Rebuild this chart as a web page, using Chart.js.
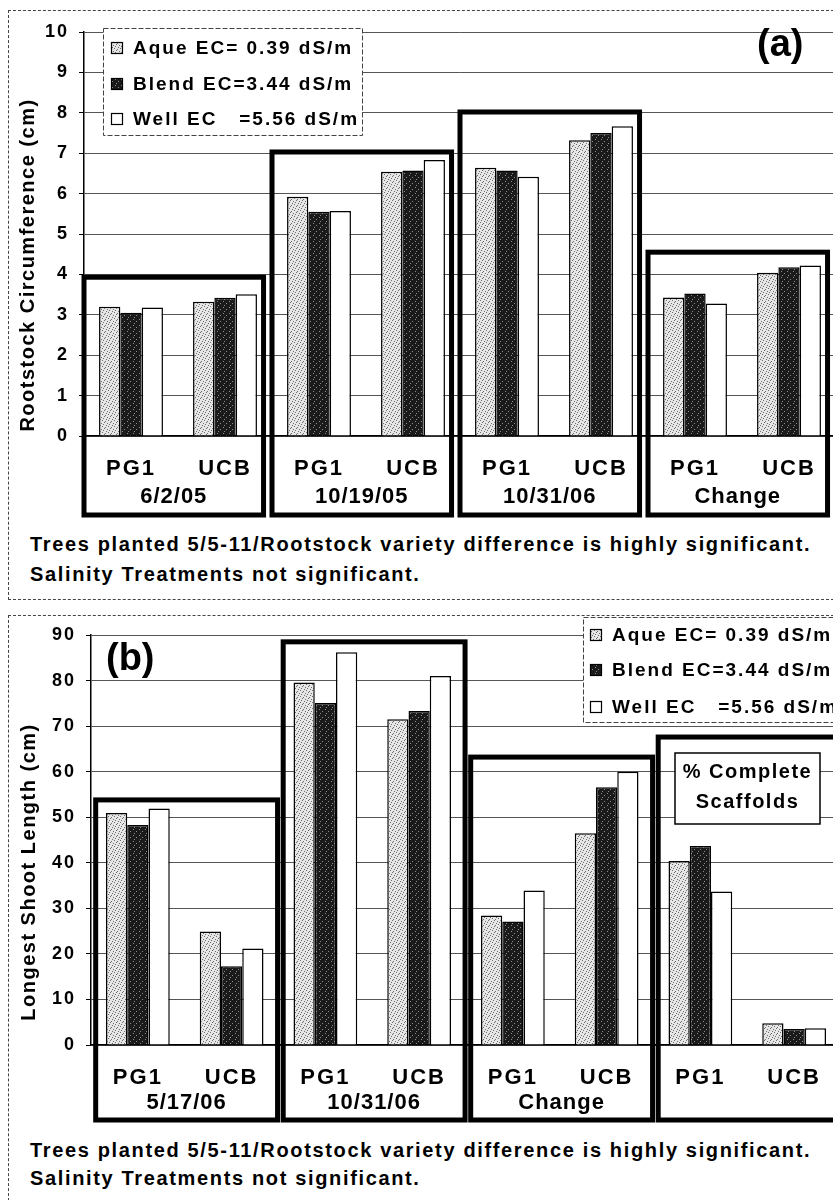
<!DOCTYPE html>
<html>
<head>
<meta charset="utf-8">
<title>Rootstock circumference and shoot length</title>
<script src="https://cdn.jsdelivr.net/npm/chart.js@4.4.1/dist/chart.umd.min.js"></script>
<style>
  html, body { margin: 0; padding: 0; overflow: hidden; background: #fff; }
  body { width: 833px; height: 1200px; position: relative; font-family: 'Liberation Sans', Arial, sans-serif; color: #000; }
  canvas { position: absolute; left: 0; }
  #chartA { top: 0; }
  #chartB { top: 600px; }
  .frame { position: absolute; border: 1px dashed #444; border-right: none; }
  .note { position: absolute; left: 30px; font-size: 20px; font-weight: bold; letter-spacing: 1.65px; white-space: nowrap; }
</style>
</head>
<body>
<div class="frame" style="left:8px; top:10px; width:840px; height:588px;"></div>
<div class="frame" style="left:8px; top:615px; width:840px; height:600px; border-bottom:none;"></div>
<canvas id="chartA" width="850" height="520"></canvas>
<canvas id="chartB" width="850" height="530"></canvas>
<div class="note" style="top:529px; line-height:30px;">Trees planted 5/5-11/Rootstock variety difference is highly significant.<br>Salinity Treatments not significant.</div>
<div class="note" style="top:1136px; line-height:28px;">Trees planted 5/5-11/Rootstock variety difference is highly significant.<br>Salinity Treatments not significant.</div>

<script>
// Legend names and x categories (shared by both panels)
const seriesNames = ['Aque EC= 0.39 dS/m', 'Blend EC=3.44 dS/m', 'Well EC   =5.56 dS/m'];
const categories = ['PG1', 'UCB', 'PG1', 'UCB', 'PG1', 'UCB', 'PG1', 'UCB'];

// (a) Rootstock circumference (cm)
const groupsA = ['6/2/05', '10/19/05', '10/31/06', 'Change'];
const aqueA  = [3.20, 3.32, 5.92, 6.54, 6.64, 7.32, 3.43, 4.04];
const blendA = [3.05, 3.42, 5.55, 6.57, 6.57, 7.50, 3.53, 4.18];
const wellA  = [3.18, 3.51, 5.57, 6.83, 6.42, 7.67, 3.28, 4.22];
const boxTopsA = [3.93, 7.03, 8.02, 4.55];

// (b) Longest shoot length (cm)
const groupsB = ['5/17/06', '10/31/06', 'Change', ''];
const aqueB  = [50.9, 24.9, 79.6, 71.5, 28.4, 46.5, 40.4, 4.8];
const blendB = [48.3, 17.3, 75.1, 73.3, 27.1, 56.6, 43.7, 3.5];
const wellB  = [51.9, 21.2, 86.2, 81.0, 33.9, 60.0, 33.7, 3.7];
const boxTopsB = [53.8, 88.5, 63.2, 67.6];

const FONT = '"Liberation Sans", Arial, sans-serif';

// speckled fills like the scanned print
function stipple(base, dot, pts) {
    const c = document.createElement('canvas');
    c.width = c.height = 6;
    const g = c.getContext('2d');
    g.fillStyle = base;
    g.fillRect(0, 0, 6, 6);
    g.fillStyle = dot;
    pts.forEach(p => g.fillRect(p[0], p[1], 1, 1));
    return g.createPattern(c, 'repeat');
}
const fills = [
    stipple('#e6e6e6', '#6e6e6e', [[0, 0], [3, 1], [5, 3], [1, 4], [4, 5], [2, 2]]),
    stipple('#1a1a1a', '#8c8c8c', [[1, 1], [4, 3], [2, 5]]),
    '#ffffff'
];

// Boxes, group labels, legend, axis title etc.
const panelDecor = {
    id: 'panelDecor',
    beforeDraw(chart, args, o) {
        chart.ctx.letterSpacing = '2px';
    },
    afterDraw(chart, args, o) {
        const ctx = chart.ctx;
        const x = chart.scales.x, y = chart.scales.y;
        const half = (x.getPixelForValue(1) - x.getPixelForValue(0)) / 2;
        ctx.save();
        ctx.fillStyle = '#000';
        ctx.strokeStyle = '#000';

        o.boxTops.forEach((top, g) => {
            const left = x.getPixelForValue(2 * g) - half * o.boxLeft;
            const right = x.getPixelForValue(2 * g + 1) + half * o.boxRight;
            const t = y.getPixelForValue(top);
            ctx.lineWidth = 5;
            ctx.strokeRect(left, t, right - left, o.boxBottom - t);
            if (o.groups[g]) {
                ctx.font = 'bold 22px ' + FONT;
                ctx.letterSpacing = '1px';
                ctx.textAlign = 'center';
                ctx.textBaseline = 'middle';
                ctx.fillText(o.groups[g], (left + right) / 2, o.groupY);
            }
        });

        // y axis title
        ctx.save();
        ctx.translate(o.titleX, o.titleY);
        ctx.rotate(-Math.PI / 2);
        ctx.font = 'bold 20px ' + FONT;
        ctx.letterSpacing = '1.5px';
        ctx.textAlign = 'center';
        ctx.textBaseline = 'middle';
        ctx.fillText(o.title, 0, 0);
        ctx.restore();

        // legend
        const L = o.legend;
        ctx.fillStyle = '#fff';
        ctx.fillRect(L.x, L.y, L.w, L.h);
        ctx.setLineDash([5, 2]);
        ctx.lineWidth = 1;
        ctx.strokeStyle = '#444';
        ctx.strokeRect(L.x + 0.5, L.y + 0.5, L.w, L.h);
        ctx.setLineDash([]);
        ctx.font = 'bold 19px ' + FONT;
        ctx.letterSpacing = '2px';
        ctx.textAlign = 'left';
        ctx.textBaseline = 'middle';
        chart.data.datasets.forEach((ds, i) => {
            const cy = L.rows[i];
            ctx.fillStyle = ds.backgroundColor;
            ctx.fillRect(L.sx, cy - 6, 12, 12);
            ctx.lineWidth = 1.2;
            ctx.strokeStyle = '#000';
            ctx.strokeRect(L.sx + 0.5, cy - 5.5, 11, 11);
            ctx.fillStyle = '#000';
            ctx.fillText(ds.label, L.tx, cy + 1);
        });

        // panel letter
        ctx.font = 'bold 38px ' + FONT;
        ctx.letterSpacing = '0px';
        ctx.fillText(o.letter.text, o.letter.x, o.letter.y);

        // extra labelled box
        if (o.tag) {
            const T = o.tag;
            ctx.fillStyle = '#fff';
            ctx.fillRect(T.x, T.y, T.w, T.h);
            ctx.lineWidth = 1.5;
            ctx.strokeStyle = '#000';
            ctx.strokeRect(T.x, T.y, T.w, T.h);
            ctx.fillStyle = '#000';
            ctx.font = 'bold 20px ' + FONT;
            ctx.letterSpacing = '1.5px';
            ctx.textAlign = 'center';
            T.lines.forEach((s, i) => ctx.fillText(s, T.x + T.w / 2, T.ys[i]));
        }
        ctx.restore();
    }
};

function makeChart(id, cfg) {
    const values = cfg.values;
    return new Chart(document.getElementById(id), {
        type: 'bar',
        data: {
            labels: categories,
            datasets: values.map((v, i) => ({
                label: seriesNames[i],
                data: v,
                backgroundColor: fills[i],
                borderColor: '#000',
                borderWidth: 1.5,
                borderSkipped: 'bottom',
                categoryPercentage: 0.68,
                barPercentage: 1.0
            }))
        },
        options: {
            responsive: false,
            animation: false,
            layout: { padding: { top: cfg.padTop, right: cfg.padRight, left: 0, bottom: 0 } },
            plugins: {
                legend: { display: false },
                tooltip: { enabled: false },
                panelDecor: cfg.decor
            },
            scales: {
                x: {
                    grid: { display: false, drawTicks: false },
                    border: { color: '#000', width: 1.5 },
                    ticks: { color: '#000', font: { family: FONT, size: 22, weight: 'bold' }, padding: 20, autoSkip: false, maxRotation: 0 },
                    afterFit: s => { s.height = cfg.xHeight; }
                },
                y: {
                    min: 0,
                    max: cfg.max,
                    ticks: { stepSize: cfg.step, color: '#000', font: { family: FONT, size: 18, weight: 'bold' }, padding: 10 },
                    grid: { color: '#555', lineWidth: 1, tickLength: 5, tickColor: '#000' },
                    border: { color: '#000', width: 1.5 },
                    afterFit: s => { s.width = cfg.yWidth; }
                }
            }
        },
        plugins: [panelDecor]
    });
}

makeChart('chartA', {
    values: [aqueA, blendA, wellA],
    max: 10, step: 1,
    padTop: 32, padRight: 14, xHeight: 84, yWidth: 84,
    decor: {
        boxTops: boxTopsA, groups: groupsA, boxLeft: 1.0, boxRight: 0.82, boxBottom: 515, groupY: 497,
        title: 'Rootstock Circumference (cm)', titleX: 28, titleY: 265,
        legend: { x: 103, y: 28, w: 259, h: 107, sx: 111, tx: 133, rows: [48, 84, 119] },
        letter: { text: '(a)', x: 757, y: 46 }
    }
});

makeChart('chartB', {
    values: [aqueB, blendB, wellB],
    max: 90, step: 10,
    padTop: 35, padRight: 9, xHeight: 85, yWidth: 91,
    decor: {
        boxTops: boxTopsB, groups: groupsB, boxLeft: 0.9, boxRight: 0.98, boxBottom: 520, groupY: 503,
        title: 'Longest Shoot Length (cm)', titleX: 29, titleY: 272,
        legend: { x: 583, y: 17, w: 280, h: 105, sx: 590, tx: 612, rows: [35, 70, 107] },
        letter: { text: '(b)', x: 106, y: 60 },
        tag: { x: 675, y: 153, w: 145, h: 71, lines: ['% Complete', 'Scaffolds'], ys: [172, 202] }
    }
});
</script>
</body>
</html>
